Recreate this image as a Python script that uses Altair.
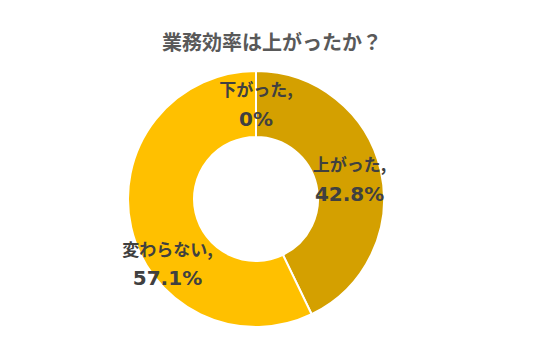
import altair as alt
import pandas as pd

categories = ["上がった", "変わらない", "下がった"]
values = [42.8, 57.1, 0.0]
value_labels = ["42.8%", "57.1%", "0%"]
colors = ["#D4A000", "#FFC000", "#A5A5A5"]
title_text = "業務効率は上がったか？"

df = pd.DataFrame({
    "cat": categories,
    "val": values,
    "order": list(range(len(categories))),
    "name": [f"{c}," for c in categories],
    "pct": value_labels,
})

FONT = "Noto Sans CJK JP"
LFONT = "DejaVu Sans, Noto Sans CJK JP"
CX, CY = 248, 137
TOTAL = sum(values)

arcs = alt.Chart(df).mark_arc(outerRadius=128, innerRadius=62, stroke="white", strokeWidth=2).encode(
    theta=alt.Theta("val:Q", stack=True),
    order=alt.Order("order:Q"),
    color=alt.Color("cat:N", scale=alt.Scale(domain=categories, range=colors), legend=None),
    x=alt.value(CX), y=alt.value(CY),
)

stacked = alt.Chart(df).transform_stack(
    stack="val", groupby=[], as_=["v0", "v1"], sort=[alt.SortField("order")]
).transform_calculate(mid="(datum.v0 + datum.v1) / 2")


def labels(field, size, font, dy, filt, radius, dx=0, extra_dy=0):
    return stacked.transform_filter(filt).mark_text(
        radius=radius, font=font, fontSize=size, fontWeight="bold", color="#404040",
        dx=dx, dy=dy + extra_dy,
    ).encode(
        theta=alt.Theta("mid:Q", scale=alt.Scale(domain=[0, TOTAL])),
        text=f"{field}:N", x=alt.value(CX), y=alt.value(CY),
    )


main = alt.datum.cat != "変わらない"
mid = alt.datum.cat == "変わらない"

layers = [
    arcs,
    labels("name", 17, FONT, -12, main, 96),
    labels("pct", 20, LFONT, 17, main, 96),
    labels("name", 17, FONT, -12, mid, 98, dx=7, extra_dy=42),
    labels("pct", 20, LFONT, 16, mid, 98, dx=7, extra_dy=42),
]

chart = alt.layer(*layers).properties(
    width=528, height=290,
    padding={"left": 0, "right": 0, "top": 26, "bottom": 0},
    title=alt.TitleParams(title_text, font=FONT, fontSize=20, fontWeight="bold",
                          color="#595959", anchor="middle", offset=8),
).resolve_scale(theta="independent").configure_view(stroke=None)

chart.save("out.html", embed_options={"renderer": "svg", "actions": False})
